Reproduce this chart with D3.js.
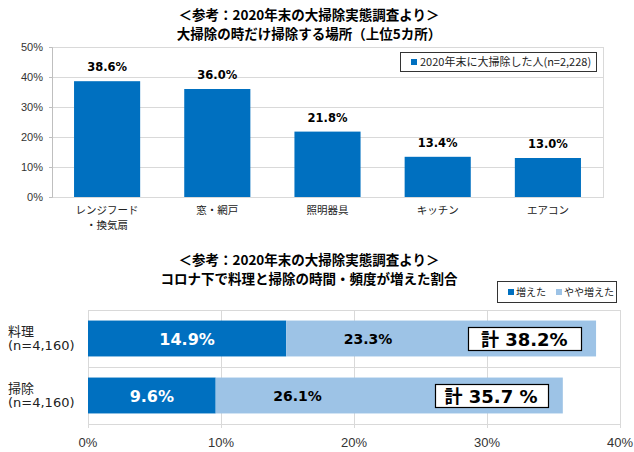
<!DOCTYPE html>
<html><head><meta charset="utf-8">
<script src="https://cdn.jsdelivr.net/npm/d3@7/dist/d3.min.js"></script>
<style>
body{margin:0;background:#fff;}
svg{display:block;}
</style></head>
<body>
<svg id="c" width="634" height="452"></svg>
<script>
// ---- data: top chart
const topTitle = ["＜参考：2020年末の大掃除実態調査より＞", "大掃除の時だけ掃除する場所（上位5カ所）"];
const places = [["レンジフード","・換気扇"], ["窓・網戸"], ["照明器具"], ["キッチン"], ["エアコン"]];
const placeValues = [38.6, 36.0, 21.8, 13.4, 13.0];
const topTicks = [0, 10, 20, 30, 40, 50];
const topLegend = "2020年末に大掃除した人(n=2,228)";

// ---- data: bottom chart
const bottomTitle = ["＜参考：2020年末の大掃除実態調査より＞", "コロナ下で料理と掃除の時間・頻度が増えた割合"];
const rows = [["料理","(n=4,160)"], ["掃除","(n=4,160)"]];
const increased = [14.9, 9.6];
const slightly = [23.3, 26.1];
const totalLabels = ["計 38.2%", "計 35.7 %"];
const seriesNames = ["増えた", "やや増えた"];
const bottomTicks = [0, 10, 20, 30, 40];

const DARK = "#0070C0", LIGHT = "#9DC3E6", GRID = "#d9d9d9";
const JP = "'Noto Sans CJK JP', sans-serif";
const NUM = "'DejaVu Sans', 'Noto Sans CJK JP', sans-serif";
const AX = "'Liberation Sans', Arial, sans-serif";

const svg = d3.select("#c");

// ================= TOP CHART =================
const t = {l: 52, r: 603, t: 47, b: 197};
svg.append("g").selectAll("text").data(topTitle).join("text")
  .attr("x", 309).attr("y", (d,i) => 20 + i*19)
  .attr("text-anchor","middle").attr("font-family", JP).attr("font-weight","bold")
  .attr("font-size", 13.5).attr("fill","#000").text(d => d);

const xb = d3.scaleBand().domain(d3.range(places.length)).range([t.l, t.r]).paddingInner(0.4).paddingOuter(0.2);
const yb = d3.scaleLinear().domain([0, 50]).range([t.b, t.t]);

const gT = svg.append("g");
gT.selectAll("line.grid").data(topTicks).join("line")
  .attr("x1", t.l).attr("x2", t.r).attr("y1", d => yb(d)).attr("y2", d => yb(d))
  .attr("stroke", GRID).attr("stroke-width", 1).attr("shape-rendering","crispEdges");
gT.append("rect").attr("x", t.l).attr("y", t.t).attr("width", t.r - t.l).attr("height", t.b - t.t)
  .attr("fill","none").attr("stroke", GRID).attr("shape-rendering","crispEdges");

const yAxis = d3.axisLeft(yb).tickValues(topTicks).tickFormat(d => d + "%").tickSize(3).tickPadding(6);
const ya = gT.append("g").attr("transform", `translate(${t.l},0)`).call(yAxis);
ya.select(".domain").attr("stroke", "#bfbfbf");
ya.selectAll(".tick line").attr("stroke", "#bfbfbf");
ya.selectAll("text").attr("font-family", AX).attr("font-size", 11).attr("fill", "#333");

gT.selectAll("rect.bar").data(placeValues).join("rect")
  .attr("x", (d,i) => xb(i)).attr("width", xb.bandwidth())
  .attr("y", d => yb(d)).attr("height", d => yb(0) - yb(d)).attr("fill", DARK);

gT.selectAll("text.val").data(placeValues).join("text")
  .attr("x", (d,i) => xb(i) + xb.bandwidth()/2).attr("y", d => yb(d) - 10)
  .attr("text-anchor","middle").attr("font-family", NUM).attr("font-weight","bold")
  .attr("font-size", 11.5).attr("fill","#000").text(d => d.toFixed(1) + "%");

places.forEach((lines, i) => {
  lines.forEach((s, j) => {
    gT.append("text").attr("x", xb(i) + xb.bandwidth()/2).attr("y", 214 + j*14.5)
      .attr("text-anchor","middle").attr("font-family", JP).attr("font-size", 10.5)
      .attr("fill","#222").text(s);
  });
});

// legend top
const lg = gT.append("g");
lg.append("rect").attr("x", 400.5).attr("y", 52.5).attr("width", 196).attr("height", 19)
  .attr("fill","#fff").attr("stroke","#333").attr("stroke-width",1);
lg.append("rect").attr("x", 411).attr("y", 59).attr("width", 6).attr("height", 6).attr("fill", DARK);
lg.append("text").attr("x", 420).attr("y", 66).attr("font-family", JP).attr("font-size", 11)
  .attr("fill","#222").text(topLegend);

// ================= BOTTOM CHART =================
const b = {l: 88, r: 620, t: 310, b: 424};
svg.append("g").selectAll("text").data(bottomTitle).join("text")
  .attr("x", 309).attr("y", (d,i) => 265 + i*19)
  .attr("text-anchor","middle").attr("font-family", JP).attr("font-weight","bold")
  .attr("font-size", 13.5).attr("fill","#000").text(d => d);

const xs = d3.scaleLinear().domain([0, 40]).range([b.l, b.r]);
const ys = d3.scaleBand().domain(d3.range(rows.length)).range([b.t, b.b]).paddingInner(0.37).paddingOuter(0.185);
const gB = svg.append("g");

// vertical grid
gB.selectAll("line.v").data(bottomTicks).join("line")
  .attr("x1", d => Math.round(xs(d)) + 0.5).attr("x2", d => Math.round(xs(d)) + 0.5)
  .attr("y1", b.t).attr("y2", b.b + 4).attr("stroke", GRID);
// horizontal separators
const seps = [b.t, (b.t + b.b)/2, b.b];
gB.selectAll("line.h").data(seps).join("line")
  .attr("x1", b.l).attr("x2", b.r).attr("y1", d => Math.round(d) + 0.5).attr("y2", d => Math.round(d) + 0.5)
  .attr("stroke", GRID);

gB.selectAll("text.xt").data(bottomTicks).join("text")
  .attr("x", d => xs(d)).attr("y", 447).attr("text-anchor","middle")
  .attr("font-family", AX).attr("font-size", 13).attr("fill","#333").text(d => d + "%");

// bars
gB.selectAll("rect.inc").data(increased).join("rect")
  .attr("x", xs(0)).attr("width", d => xs(d) - xs(0))
  .attr("y", (d,i) => ys(i)).attr("height", ys.bandwidth()).attr("fill", DARK);
gB.selectAll("rect.sl").data(slightly).join("rect")
  .attr("x", (d,i) => xs(increased[i])).attr("width", (d,i) => xs(increased[i] + d) - xs(increased[i]))
  .attr("y", (d,i) => ys(i)).attr("height", ys.bandwidth()).attr("fill", LIGHT);

// labels
gB.selectAll("text.incl").data(increased).join("text")
  .attr("x", d => xs(d/2)).attr("y", (d,i) => ys(i) + ys.bandwidth()/2 + 6)
  .attr("text-anchor","middle").attr("font-family", NUM).attr("font-weight","bold")
  .attr("font-size", 16).attr("fill","#fff").text(d => d.toFixed(1) + "%");
gB.selectAll("text.sll").data(slightly).join("text")
  .attr("x", (d,i) => xs(increased[i] + 6.15)).attr("y", (d,i) => ys(i) + ys.bandwidth()/2 + 5)
  .attr("text-anchor","middle").attr("font-family", NUM).attr("font-weight","bold")
  .attr("font-size", 14).attr("fill","#000").text(d => d.toFixed(1) + "%");

// total boxes
totalLabels.forEach((s, i) => {
  const total = increased[i] + slightly[i];
  const cx = xs(total - 5.4), cy = ys(i) + ys.bandwidth()/2;
  gB.append("rect").attr("x", Math.round(cx - 56) + 0.5).attr("y", Math.round(cy - 11.5) + 0.5)
    .attr("width", 113).attr("height", 23).attr("fill","#fff").attr("stroke","#000").attr("stroke-width",1.2);
  gB.append("text").attr("x", cx).attr("y", cy + 7).attr("text-anchor","middle")
    .attr("font-family", NUM).attr("font-weight","bold").attr("font-size", 18).attr("fill","#000").text(s);
});

// category labels
rows.forEach((lines, i) => {
  const cy = ys(i) + ys.bandwidth()/2;
  lines.forEach((s, j) => {
    gB.append("text").attr("x", 8).attr("y", cy - 3 + j*14)
      .attr("font-family", NUM).attr("font-size", 13).attr("fill","#222").text(s);
  });
});

// legend bottom
const lb = gB.append("g");
lb.append("rect").attr("x", 497.5).attr("y", 281.5).attr("width", 119).attr("height", 21)
  .attr("fill","#fff").attr("stroke","#333");
const legX = [508, 556];
seriesNames.forEach((s, i) => {
  lb.append("rect").attr("x", legX[i]).attr("y", 289).attr("width", 6).attr("height", 6)
    .attr("fill", i === 0 ? DARK : LIGHT);
  lb.append("text").attr("x", legX[i] + 8).attr("y", 296).attr("font-family", JP)
    .attr("font-size", 10).attr("fill","#222").text(s);
});
</script>
</body></html>
